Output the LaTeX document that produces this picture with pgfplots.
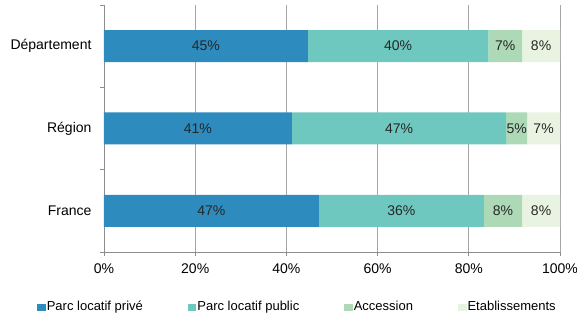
\documentclass[border=0pt]{standalone}
\usepackage{fontspec}
\setmainfont{Liberation Sans}
\usepackage{pgfplots}
\pgfplotsset{compat=1.18}
\usepackage{pgfplotstable}
\definecolor{cPriv}{HTML}{2E8BBE}
\definecolor{cPub}{HTML}{6FC8BF}
\definecolor{cAcc}{HTML}{ADD9B7}
\definecolor{cEta}{HTML}{E8F4E1}
\definecolor{gridc}{HTML}{A6A6A6}
\definecolor{axc}{HTML}{8C8C8C}

\pgfplotstableread{
y priv pub acc eta
0 47.1 36.2 8.4 8.3
1 41.2 47.0 4.6 7.2
2 44.7 39.6 7.4 8.3
}\data

\pgfplotstableread{
x y lab
22.35 2 45
64.5 2 40
88.0 2 7
95.85 2 8
20.6 1 41
64.7 1 47
90.5 1 5
96.4 1 7
23.55 0 47
65.2 0 36
87.5 0 8
95.85 0 8
}\labels

\begin{document}
\begin{tikzpicture}
\begin{axis}[
  name=ax,
  scale only axis, width=456pt, height=247pt,
  xbar stacked, bar width=32pt,
  xmin=0, xmax=100, ymin=-0.5, ymax=2.5,
  xtick={0,20,40,60,80,100},
  xticklabels={0\%,20\%,40\%,60\%,80\%,100\%},
  ytick={0,1,2}, yticklabels={France,Région,Département},
  minor ytick={-0.5,0.5,1.5,2.5},
  axis x line*=bottom, axis y line*=left,
  axis line style={draw=axc, line width=0.8pt, -},
  tick align=outside,
  major tick length=4pt, minor tick length=4pt,
  major y tick style={draw=none},
  minor y tick style={draw=axc, line width=0.8pt},
  major x tick style={draw=axc, line width=0.8pt},
  xmajorgrids, major x grid style={draw=gridc, line width=0.8pt},
  tick label style={font=\fontsize{14}{16}\selectfont},
  yticklabel style={xshift=-5pt},
  xticklabel style={yshift=-4pt},
  legend columns=4,
  legend style={at={(193pt,-55pt)}, anchor=center, draw=none, fill=none,
    font=\fontsize{13}{15}\selectfont,
    nodes={inner xsep=1pt, text height=9.5pt, text depth=3pt},
    /tikz/every even column/.append style={column sep=44pt}},
  legend image code/.code={\fill[#1] (0pt,-3.5pt) rectangle (8.5pt,3.5pt);},
]
\addplot[fill=cPriv, draw=none] table[x=priv, y=y]{\data};
\addlegendentry{Parc locatif privé}
\addplot[fill=cPub, draw=none] table[x=pub, y=y]{\data};
\addlegendentry{Parc locatif public}
\addplot[fill=cAcc, draw=none] table[x=acc, y=y]{\data};
\addlegendentry{Accession}
\addplot[fill=cEta, draw=none] table[x=eta, y=y]{\data};
\addlegendentry{Etablissements}
\end{axis}
\begin{axis}[
  scale only axis, width=456pt, height=247pt,
  xmin=0, xmax=100, ymin=-0.5, ymax=2.5,
  hide axis,
]
\addplot[draw=none, mark=none, point meta=explicit symbolic,
  nodes near coords={\pgfplotspointmeta\%},
  every node near coord/.append style={anchor=center, font=\fontsize{14}{16}\selectfont, text=black!85}]
  table[x=x, y=y, meta=lab]{\labels};
\end{axis}
\pgfresetboundingbox
\path ([xshift=-104pt,yshift=-63pt]ax.south west) rectangle ([xshift=473pt,yshift=252pt]ax.south west);
\end{tikzpicture}
\end{document}
